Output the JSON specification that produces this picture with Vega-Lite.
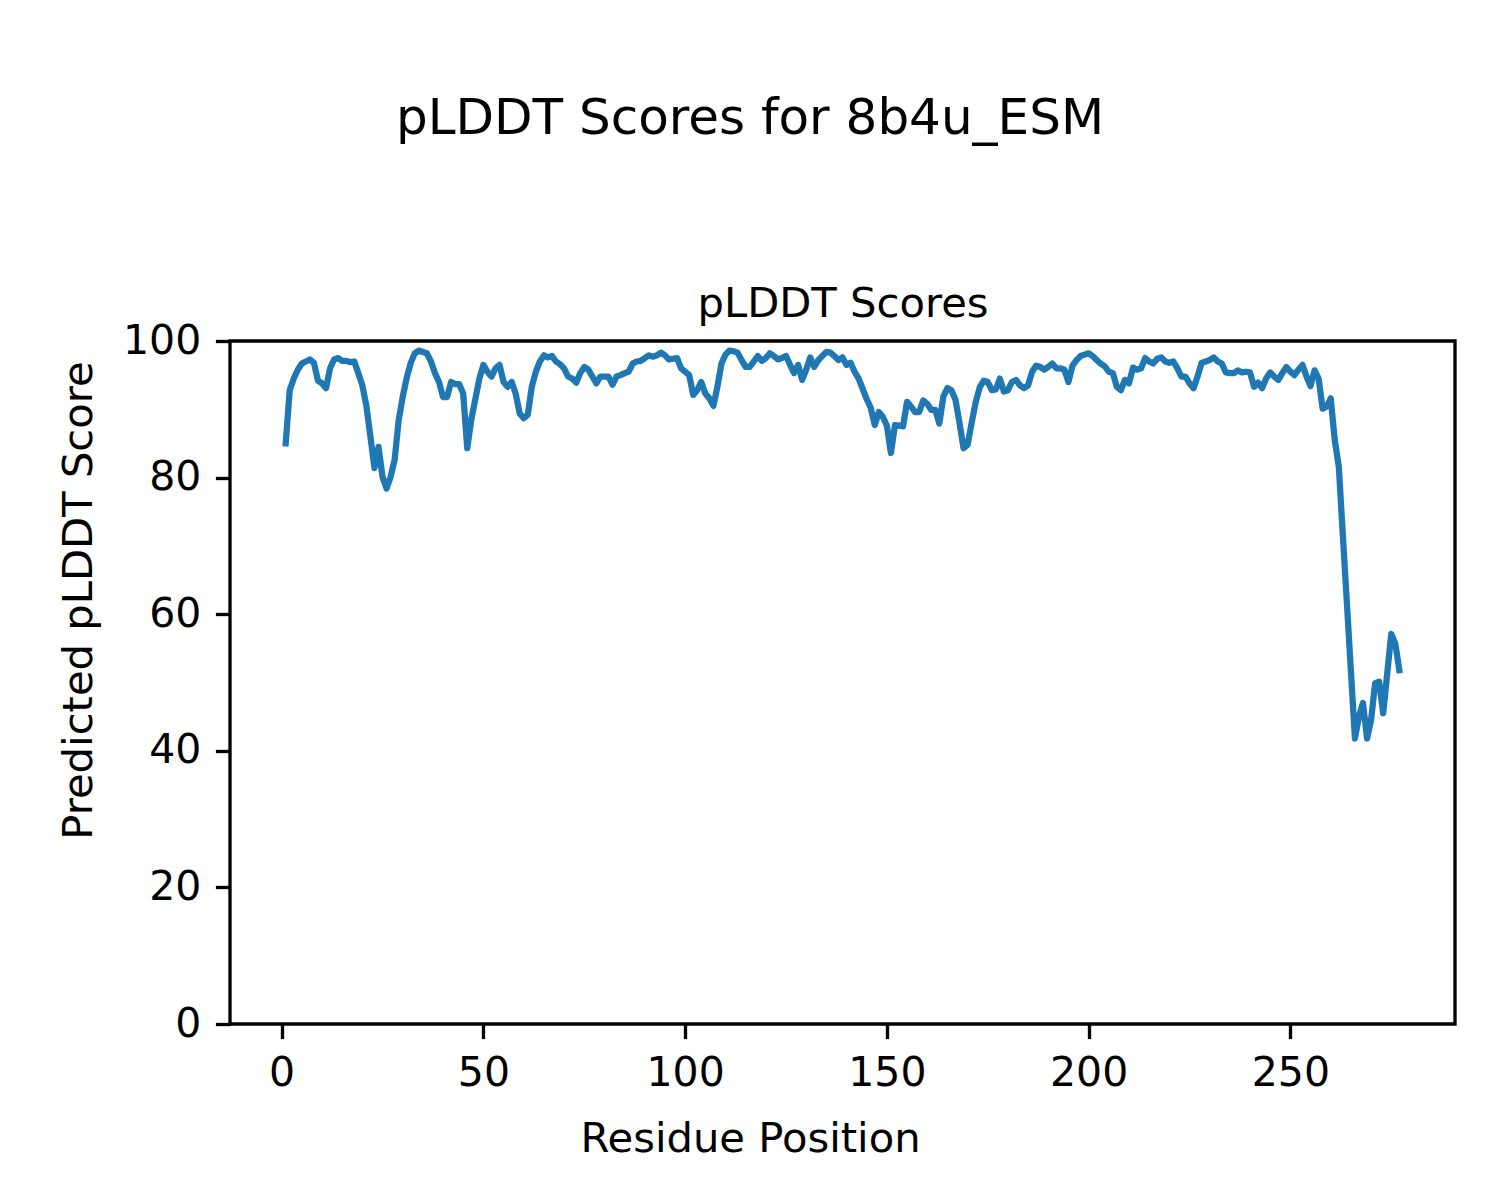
{
  "$schema": "https://vega.github.io/schema/vega-lite/v6.json",
  "autosize": {"type": "none"},
  "padding": {"left": 230, "top": 341, "right": 45, "bottom": 176},
  "width": 1225,
  "height": 683,
  "background": "white",
  "title": {
    "text": "pLDDT Scores for 8b4u_ESM",
    "fontSize": 50,
    "fontWeight": "normal",
    "font": "DejaVu Sans",
    "color": "black",
    "anchor": "middle",
    "dx": -92.5,
    "offset": 139
  },
  "data": {"name": "plddt"},
  "datasets": {
    "plddt": [
      {"residue":1,"plddt":85.0},{"residue":2,"plddt":92.8},{"residue":3,"plddt":94.5},{"residue":4,"plddt":95.8},{"residue":5,"plddt":96.7},
      {"residue":6,"plddt":97.0},{"residue":7,"plddt":97.3},{"residue":8,"plddt":96.8},{"residue":9,"plddt":94.2},{"residue":10,"plddt":93.8},
      {"residue":11,"plddt":93.1},{"residue":12,"plddt":96.0},{"residue":13,"plddt":97.3},{"residue":14,"plddt":97.5},{"residue":15,"plddt":97.1},
      {"residue":16,"plddt":97.1},{"residue":17,"plddt":96.9},{"residue":18,"plddt":97.0},{"residue":19,"plddt":95.3},{"residue":20,"plddt":93.5},
      {"residue":21,"plddt":90.5},{"residue":22,"plddt":86.0},{"residue":23,"plddt":81.4},{"residue":24,"plddt":84.5},{"residue":25,"plddt":80.1},
      {"residue":26,"plddt":78.4},{"residue":27,"plddt":80.1},{"residue":28,"plddt":82.6},{"residue":29,"plddt":88.4},{"residue":30,"plddt":91.8},
      {"residue":31,"plddt":94.6},{"residue":32,"plddt":96.8},{"residue":33,"plddt":98.2},{"residue":34,"plddt":98.6},{"residue":35,"plddt":98.4},
      {"residue":36,"plddt":98.2},{"residue":37,"plddt":97.0},{"residue":38,"plddt":95.3},{"residue":39,"plddt":94.0},{"residue":40,"plddt":91.8},
      {"residue":41,"plddt":91.8},{"residue":42,"plddt":94.0},{"residue":43,"plddt":93.7},{"residue":44,"plddt":93.7},{"residue":45,"plddt":92.3},
      {"residue":46,"plddt":84.3},{"residue":47,"plddt":88.5},{"residue":48,"plddt":91.5},{"residue":49,"plddt":94.5},{"residue":50,"plddt":96.5},
      {"residue":51,"plddt":95.5},{"residue":52,"plddt":94.8},{"residue":53,"plddt":96.0},{"residue":54,"plddt":96.5},{"residue":55,"plddt":94.0},
      {"residue":56,"plddt":93.3},{"residue":57,"plddt":94.0},{"residue":58,"plddt":92.3},{"residue":59,"plddt":89.4},{"residue":60,"plddt":88.7},
      {"residue":61,"plddt":89.2},{"residue":62,"plddt":93.3},{"residue":63,"plddt":95.5},{"residue":64,"plddt":97.0},{"residue":65,"plddt":97.9},
      {"residue":66,"plddt":97.6},{"residue":67,"plddt":97.8},{"residue":68,"plddt":97.0},{"residue":69,"plddt":96.6},{"residue":70,"plddt":96.0},
      {"residue":71,"plddt":94.8},{"residue":72,"plddt":94.5},{"residue":73,"plddt":93.9},{"residue":74,"plddt":95.3},{"residue":75,"plddt":96.2},
      {"residue":76,"plddt":95.8},{"residue":77,"plddt":94.8},{"residue":78,"plddt":93.8},{"residue":79,"plddt":94.8},{"residue":80,"plddt":94.8},
      {"residue":81,"plddt":94.8},{"residue":82,"plddt":93.6},{"residue":83,"plddt":94.8},{"residue":84,"plddt":95.0},{"residue":85,"plddt":95.3},
      {"residue":86,"plddt":95.5},{"residue":87,"plddt":96.7},{"residue":88,"plddt":97.0},{"residue":89,"plddt":97.1},{"residue":90,"plddt":97.5},
      {"residue":91,"plddt":97.9},{"residue":92,"plddt":97.7},{"residue":93,"plddt":97.9},{"residue":94,"plddt":98.3},{"residue":95,"plddt":97.9},
      {"residue":96,"plddt":97.3},{"residue":97,"plddt":97.4},{"residue":98,"plddt":97.5},{"residue":99,"plddt":96.0},{"residue":100,"plddt":95.5},
      {"residue":101,"plddt":95.0},{"residue":102,"plddt":92.1},{"residue":103,"plddt":92.8},{"residue":104,"plddt":94.0},{"residue":105,"plddt":92.3},
      {"residue":106,"plddt":91.6},{"residue":107,"plddt":90.5},{"residue":108,"plddt":93.3},{"residue":109,"plddt":96.7},{"residue":110,"plddt":98.0},
      {"residue":111,"plddt":98.6},{"residue":112,"plddt":98.5},{"residue":113,"plddt":98.3},{"residue":114,"plddt":97.2},{"residue":115,"plddt":96.2},
      {"residue":116,"plddt":96.2},{"residue":117,"plddt":97.0},{"residue":118,"plddt":97.8},{"residue":119,"plddt":97.1},{"residue":120,"plddt":97.5},
      {"residue":121,"plddt":98.2},{"residue":122,"plddt":97.8},{"residue":123,"plddt":97.3},{"residue":124,"plddt":97.5},{"residue":125,"plddt":97.8},
      {"residue":126,"plddt":96.5},{"residue":127,"plddt":95.3},{"residue":128,"plddt":96.5},{"residue":129,"plddt":94.3},{"residue":130,"plddt":95.8},
      {"residue":131,"plddt":97.6},{"residue":132,"plddt":96.2},{"residue":133,"plddt":97.2},{"residue":134,"plddt":97.8},{"residue":135,"plddt":98.4},
      {"residue":136,"plddt":98.3},{"residue":137,"plddt":97.8},{"residue":138,"plddt":97.2},{"residue":139,"plddt":97.6},{"residue":140,"plddt":96.5},
      {"residue":141,"plddt":96.8},{"residue":142,"plddt":95.5},{"residue":143,"plddt":94.5},{"residue":144,"plddt":93.0},{"residue":145,"plddt":91.5},
      {"residue":146,"plddt":90.2},{"residue":147,"plddt":87.7},{"residue":148,"plddt":89.6},{"residue":149,"plddt":88.9},{"residue":150,"plddt":87.6},
      {"residue":151,"plddt":83.6},{"residue":152,"plddt":87.7},{"residue":153,"plddt":87.6},{"residue":154,"plddt":87.5},{"residue":155,"plddt":91.1},
      {"residue":156,"plddt":90.4},{"residue":157,"plddt":89.6},{"residue":158,"plddt":89.6},{"residue":159,"plddt":91.3},{"residue":160,"plddt":90.8},
      {"residue":161,"plddt":89.9},{"residue":162,"plddt":89.9},{"residue":163,"plddt":87.9},{"residue":164,"plddt":91.9},{"residue":165,"plddt":93.1},
      {"residue":166,"plddt":92.8},{"residue":167,"plddt":91.4},{"residue":168,"plddt":88.0},{"residue":169,"plddt":84.3},{"residue":170,"plddt":84.8},
      {"residue":171,"plddt":88.0},{"residue":172,"plddt":91.0},{"residue":173,"plddt":93.2},{"residue":174,"plddt":94.2},{"residue":175,"plddt":94.0},
      {"residue":176,"plddt":92.8},{"residue":177,"plddt":92.9},{"residue":178,"plddt":94.5},{"residue":179,"plddt":92.6},{"residue":180,"plddt":92.8},
      {"residue":181,"plddt":94.0},{"residue":182,"plddt":94.3},{"residue":183,"plddt":93.5},{"residue":184,"plddt":93.1},{"residue":185,"plddt":93.5},
      {"residue":186,"plddt":95.5},{"residue":187,"plddt":96.4},{"residue":188,"plddt":96.2},{"residue":189,"plddt":95.8},{"residue":190,"plddt":96.2},
      {"residue":191,"plddt":96.7},{"residue":192,"plddt":96.0},{"residue":193,"plddt":96.0},{"residue":194,"plddt":95.8},{"residue":195,"plddt":94.0},
      {"residue":196,"plddt":96.4},{"residue":197,"plddt":97.2},{"residue":198,"plddt":97.8},{"residue":199,"plddt":98.0},{"residue":200,"plddt":98.2},
      {"residue":201,"plddt":97.8},{"residue":202,"plddt":97.2},{"residue":203,"plddt":96.7},{"residue":204,"plddt":96.3},{"residue":205,"plddt":95.5},
      {"residue":206,"plddt":95.3},{"residue":207,"plddt":93.3},{"residue":208,"plddt":92.8},{"residue":209,"plddt":94.3},{"residue":210,"plddt":93.8},
      {"residue":211,"plddt":96.1},{"residue":212,"plddt":95.8},{"residue":213,"plddt":96.0},{"residue":214,"plddt":97.5},{"residue":215,"plddt":97.0},
      {"residue":216,"plddt":96.7},{"residue":217,"plddt":97.4},{"residue":218,"plddt":97.6},{"residue":219,"plddt":97.0},{"residue":220,"plddt":96.8},
      {"residue":221,"plddt":97.0},{"residue":222,"plddt":96.0},{"residue":223,"plddt":94.8},{"residue":224,"plddt":94.8},{"residue":225,"plddt":93.8},
      {"residue":226,"plddt":93.1},{"residue":227,"plddt":94.8},{"residue":228,"plddt":96.8},{"residue":229,"plddt":97.0},{"residue":230,"plddt":97.2},
      {"residue":231,"plddt":97.6},{"residue":232,"plddt":97.0},{"residue":233,"plddt":96.7},{"residue":234,"plddt":95.4},{"residue":235,"plddt":95.3},
      {"residue":236,"plddt":95.3},{"residue":237,"plddt":95.7},{"residue":238,"plddt":95.4},{"residue":239,"plddt":95.5},{"residue":240,"plddt":95.4},
      {"residue":241,"plddt":93.3},{"residue":242,"plddt":93.9},{"residue":243,"plddt":93.1},{"residue":244,"plddt":94.5},{"residue":245,"plddt":95.4},
      {"residue":246,"plddt":94.8},{"residue":247,"plddt":94.3},{"residue":248,"plddt":95.3},{"residue":249,"plddt":96.2},{"residue":250,"plddt":95.5},
      {"residue":251,"plddt":95.0},{"residue":252,"plddt":95.8},{"residue":253,"plddt":96.5},{"residue":254,"plddt":94.8},{"residue":255,"plddt":93.4},
      {"residue":256,"plddt":95.7},{"residue":257,"plddt":94.5},{"residue":258,"plddt":90.1},{"residue":259,"plddt":90.4},{"residue":260,"plddt":91.6},
      {"residue":261,"plddt":85.5},{"residue":262,"plddt":81.6},{"residue":263,"plddt":71.6},{"residue":264,"plddt":61.7},{"residue":265,"plddt":51.7},
      {"residue":266,"plddt":41.8},{"residue":267,"plddt":45.0},{"residue":268,"plddt":47.0},{"residue":269,"plddt":41.8},{"residue":270,"plddt":44.5},
      {"residue":271,"plddt":49.9},{"residue":272,"plddt":50.1},{"residue":273,"plddt":45.5},{"residue":274,"plddt":51.3},{"residue":275,"plddt":57.1},
      {"residue":276,"plddt":55.7},{"residue":277,"plddt":51.8}
    ]
  },
  "layer": [
    {
      "mark": {"type": "line", "color": "#1f77b4", "strokeWidth": 6.25, "strokeCap": "square", "strokeJoin": "round", "clip": true},
      "encoding": {
        "x": {
          "field": "residue", "type": "quantitative",
          "scale": {"domain": [-12.8, 290.8], "nice": false, "zero": false},
          "axis": {
            "orient": "bottom",
            "values": [0, 50, 100, 150, 200, 250],
            "title": "Residue Position",
            "titleX": 520,
            "titleY": 127,
            "titleAnchor": null,
            "titleAlign": "center",
            "titleBaseline": "alphabetic"
          }
        },
        "y": {
          "field": "plddt", "type": "quantitative",
          "scale": {"domain": [0, 100], "nice": false, "zero": false},
          "axis": {
            "values": [0, 20, 40, 60, 80, 100],
            "title": "Predicted pLDDT Score",
            "titleX": -139,
            "titleY": 259,
            "titleAngle": 270,
            "titleAlign": "center",
            "titleBaseline": "alphabetic"
          }
        }
      }
    },
    {
      "mark": {"type": "line", "opacity": 0, "strokeWidth": 0},
      "encoding": {
        "x": {
          "field": "residue", "type": "quantitative",
          "axis": {
            "orient": "top",
            "labels": false,
            "ticks": false,
            "domain": false,
            "grid": false,
            "title": "pLDDT Scores",
            "titleX": 612.5,
            "titleY": -25,
            "titleAlign": "center",
            "titleBaseline": "alphabetic"
          }
        },
        "y": {"field": "plddt", "type": "quantitative"}
      }
    }
  ],
  "resolve": {"axis": {"x": "independent"}},
  "config": {
    "font": "DejaVu Sans",
    "view": {"stroke": "black", "strokeWidth": 3.33},
    "axis": {
      "grid": false,
      "domain": false,
      "ticks": true,
      "tickSize": 14.6,
      "tickWidth": 3.33,
      "tickColor": "black",
      "labelFont": "DejaVu Sans",
      "labelFontSize": 41,
      "labelColor": "black",
      "labelPadding": 14.6,
      "labelFlush": false,
      "labelOverlap": false,
      "titleFont": "DejaVu Sans",
      "titleFontSize": 41.7,
      "titleFontWeight": "normal",
      "titleColor": "black"
    },
    "axisY": {"labelBaseline": "middle"}
  }
}
